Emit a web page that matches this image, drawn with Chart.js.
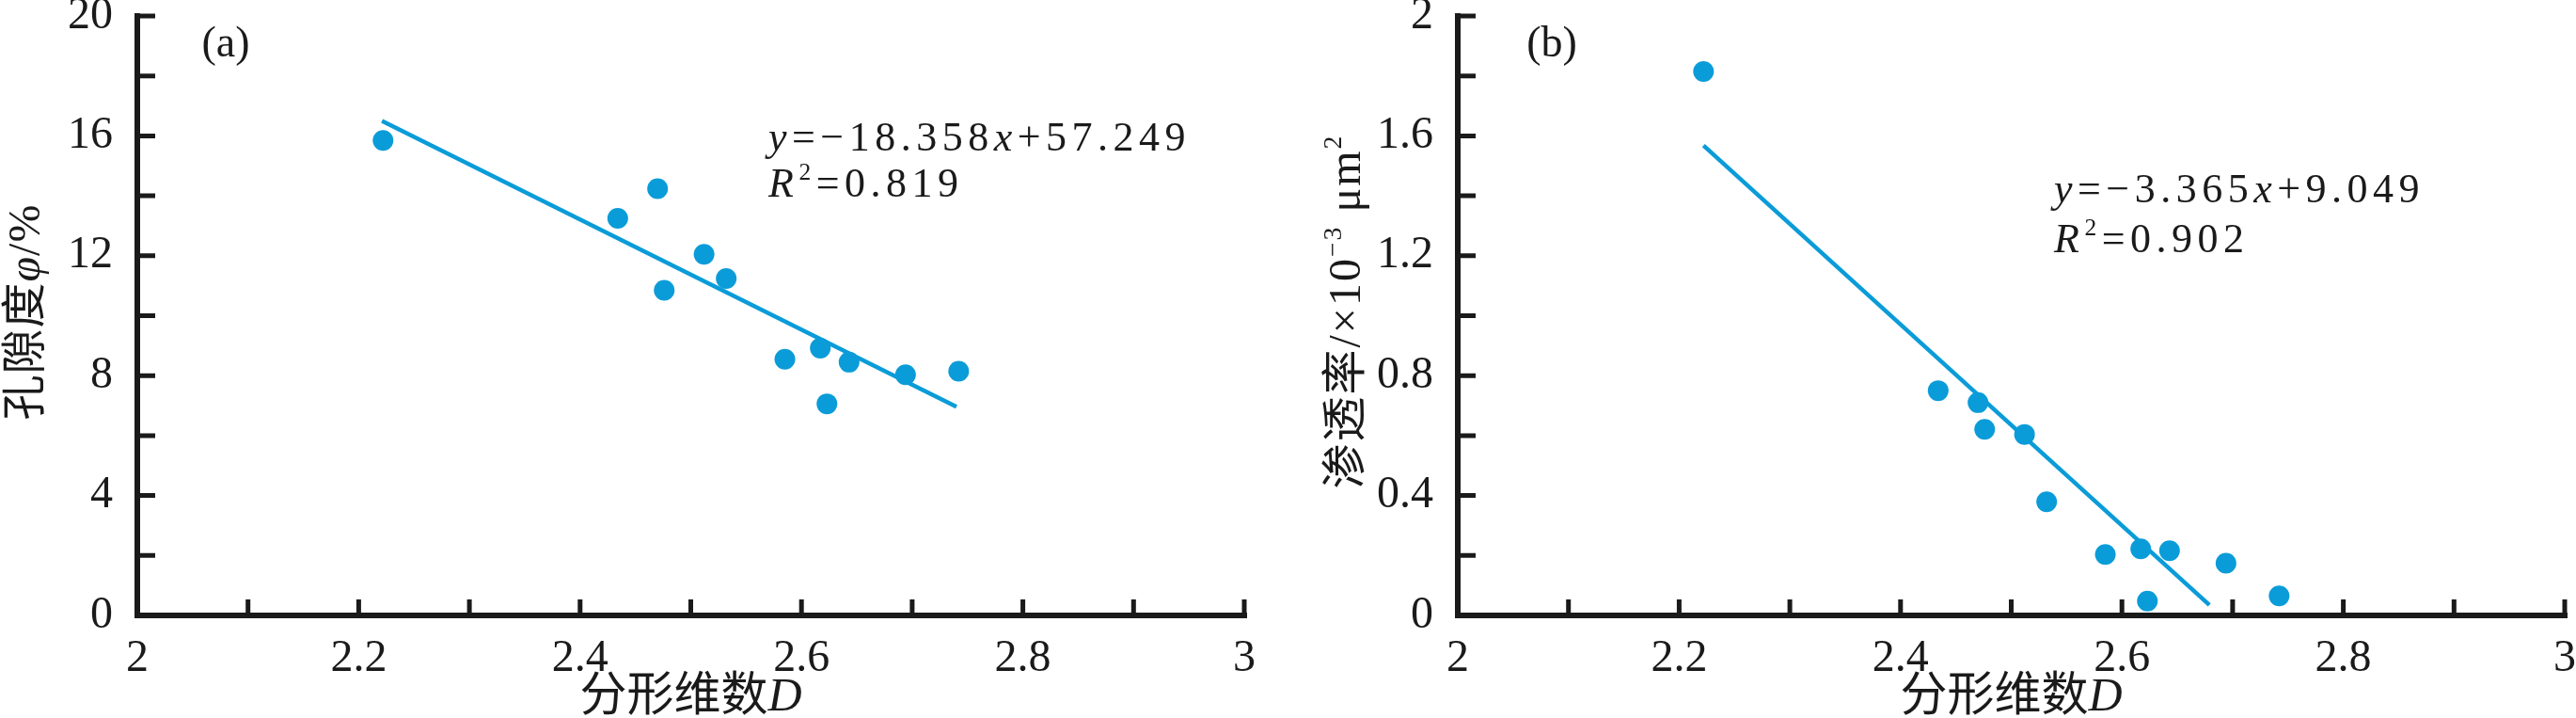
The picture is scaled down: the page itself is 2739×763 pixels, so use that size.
<!DOCTYPE html>
<html>
<head>
<meta charset="utf-8">
<script src="https://cdn.jsdelivr.net/npm/chart.js@4.4.1/dist/chart.umd.min.js"></script>
<style>
    body { margin: 0; background: #fff; width: 2739px; height: 763px; overflow: hidden; position: relative; }
    canvas { position: absolute; top: 0; }
    #chartA { left: 0; }
    #chartB { left: 1400px; }
</style>
</head>
<body>
<canvas id="chartA" width="1400" height="763"></canvas>
<canvas id="chartB" width="1339" height="763"></canvas>
<script>
// fractal dimension D of each sample (shared by both panels)
const dimD = [2.222, 2.434, 2.470, 2.476, 2.512, 2.532, 2.585, 2.617, 2.623, 2.643, 2.694, 2.742];
// porosity, %
const porosity = [15.85, 13.25, 14.24, 10.85, 12.05, 11.24, 8.55, 8.92, 7.06, 8.45, 8.03, 8.15];
// permeability, x10^-3 um^2
const permeability = [1.815, 0.75, 0.71, 0.621, 0.604, 0.379, 0.203, 0.222, 0.048, 0.216, 0.174, 0.065];

// fitted lines, end points
const fitAX = [2.221, 2.740];
const fitAY = [16.50, 6.96];
const fitBX = [2.222, 2.679];
const fitBY = [1.568, 0.035];

// axis ranges
const xRange = [2, 3];
const yRangeA = [0, 20];
const yRangeB = [0, 2];

const INK = '#1a1a1a';
const BLUE = '#0a9cd8';
const SERIF = '"Liberation Serif", "Noto Sans CJK SC", serif';

function toPts(xs, ys) {
    return xs.map((x, i) => ({ x: x, y: ys[i] }));
}

// mixed text helpers (italic letters, superscripts)
function segFont(s, size) {
    const sz = s.sup ? size * 0.58 : size;
    return (s.it ? 'italic ' : '') + sz + 'px ' + SERIF;
}
function richWidth(ctx, segs, size, gap) {
    let w = 0;
    segs.forEach(s => {
        ctx.font = segFont(s, size);
        for (const ch of s.t) w += ctx.measureText(ch).width + gap;
    });
    return w - gap;
}
function drawRich(ctx, segs, x, y, size, gap) {
    segs.forEach(s => {
        ctx.font = segFont(s, size);
        for (const ch of s.t) {
            ctx.fillText(ch, x, s.sup ? y - size * 0.42 : y);
            x += ctx.measureText(ch).width + gap;
        }
    });
}

// axes with inward ticks, titles and annotations
const decorPlugin = {
    id: 'decor',
    afterDraw(chart, args, o) {
        const ctx = chart.ctx;
        const xs = chart.scales.x, ys = chart.scales.y;
        const a = chart.chartArea;
        ctx.save();
        ctx.strokeStyle = INK;
        ctx.fillStyle = INK;

        // ticks point inward
        ctx.lineWidth = 5;
        ctx.beginPath();
        xs.ticks.forEach(t => {
            const px = xs.getPixelForValue(t.value);
            ctx.moveTo(px, a.bottom);
            ctx.lineTo(px, a.bottom - 17);
        });
        ys.ticks.forEach(t => {
            const py = ys.getPixelForValue(t.value);
            ctx.moveTo(a.left, py);
            ctx.lineTo(a.left + 19, py);
        });
        ctx.stroke();

        // axis lines
        ctx.lineWidth = 6;
        ctx.beginPath();
        ctx.moveTo(a.left, a.top - 3);
        ctx.lineTo(a.left, a.bottom + 3);
        ctx.moveTo(a.left - 3, a.bottom);
        ctx.lineTo(a.right + 3, a.bottom);
        ctx.stroke();

        ctx.textAlign = 'left';
        ctx.textBaseline = 'alphabetic';

        // x title
        const xw = richWidth(ctx, o.xTitle, 50, 0);
        drawRich(ctx, o.xTitle, (a.left + a.right) / 2 - xw / 2, 755, 50, 0);

        // y title, rotated
        const yw = richWidth(ctx, o.yTitle, 48, o.yGap);
        ctx.save();
        ctx.translate(a.left - 121, 332);
        ctx.rotate(-Math.PI / 2);
        drawRich(ctx, o.yTitle, -yw / 2, 48 * 0.36, 48, o.yGap);
        ctx.restore();

        // panel tag
        ctx.font = '46px ' + SERIF;
        ctx.textAlign = 'center';
        ctx.textBaseline = 'middle';
        ctx.fillText(o.tag, a.left + o.tagDx, 48);

        // fit equation
        ctx.textAlign = 'left';
        ctx.textBaseline = 'alphabetic';
        drawRich(ctx, o.eq, a.left + o.eqDx, o.eqY[0], 44, 5.5);
        drawRich(ctx, o.r2, a.left + o.eqDx, o.eqY[1], 44, 5.5);
        ctx.restore();
    }
};

function makeChart(id, yVals, fitX, fitY, yRange, yStep, yLabelEvery, padRight, yWidth, deco) {
    const canvas = document.getElementById(id);
    return new Chart(canvas.getContext('2d'), {
        type: 'scatter',
        data: {
            datasets: [
                {
                    data: toPts(dimD, yVals),
                    backgroundColor: BLUE,
                    borderWidth: 0,
                    pointRadius: 11,
                    order: 0
                },
                {
                    type: 'line',
                    data: toPts(fitX, fitY),
                    borderColor: BLUE,
                    borderWidth: 4.5,
                    pointRadius: 0,
                    fill: false,
                    order: 1
                }
            ]
        },
        options: {
            responsive: false,
            animation: false,
            layout: { padding: { left: 0, right: padRight, top: 17, bottom: 0 } },
            plugins: {
                legend: { display: false },
                tooltip: { enabled: false },
                decor: deco
            },
            scales: {
                x: {
                    type: 'linear',
                    min: xRange[0],
                    max: xRange[1],
                    grid: { display: false },
                    border: { display: false },
                    ticks: {
                        stepSize: 0.1,
                        autoSkip: false,
                        maxRotation: 0,
                        padding: 10,
                        color: INK,
                        font: { family: SERIF, size: 48 },
                        callback: v => (Math.round(v * 10) % 2 === 0 ? String(Math.round(v * 10) / 10) : '')
                    },
                    afterFit: s => { s.height = 109; s.paddingLeft = 0; s.paddingRight = 0; }
                },
                y: {
                    type: 'linear',
                    min: yRange[0],
                    max: yRange[1],
                    grid: { display: false },
                    border: { display: false },
                    ticks: {
                        stepSize: yStep,
                        autoSkip: false,
                        padding: 18,
                        color: INK,
                        font: { family: SERIF, size: 48 },
                        callback: v => {
                            const k = Math.round(v / yStep);
                            return k % yLabelEvery === 0 ? String(Math.round(v * 10) / 10) : '';
                        }
                    },
                    afterFit: s => { s.width = yWidth; s.paddingTop = 0; s.paddingBottom = 0; }
                }
            }
        },
        plugins: [decorPlugin]
    });
}

function drawAll() {
    const xTitle = [{ t: '分形维数' }, { t: 'D', it: true }];

    makeChart('chartA', porosity, fitAX, fitAY, yRangeA, 2, 2, 77, 146, {
        xTitle: xTitle,
        yTitle: [{ t: '孔隙度' }, { t: 'φ', it: true }, { t: '/%' }],
        yGap: 1,
        tag: '(a)',
        tagDx: 94,
        eq: [{ t: 'y', it: true }, { t: '=−18.358' }, { t: 'x', it: true }, { t: '+57.249' }],
        r2: [{ t: 'R', it: true }, { t: '2', sup: true }, { t: '=0.819' }],
        eqDx: 671,
        eqY: [160, 209]
    });

    makeChart('chartB', permeability, fitBX, fitBY, yRangeB, 0.2, 2, 12, 150, {
        xTitle: xTitle,
        yTitle: [{ t: '渗透率/×10' }, { t: '−3', sup: true }, { t: ' μm' }, { t: '2', sup: true }],
        yGap: 2,
        tag: '(b)',
        tagDx: 100,
        eq: [{ t: 'y', it: true }, { t: '=−3.365' }, { t: 'x', it: true }, { t: '+9.049' }],
        r2: [{ t: 'R', it: true }, { t: '2', sup: true }, { t: '=0.902' }],
        eqDx: 634,
        eqY: [215, 268]
    });
}

// make sure the serif face is ready before the canvas text is drawn
document.addEventListener('DOMContentLoaded', function() {
    Promise.all([
        document.fonts.load('48px "Liberation Serif"'),
        document.fonts.load('italic 48px "Liberation Serif"'),
        document.fonts.load('48px "Noto Sans CJK SC"', '分形维数')
    ]).then(drawAll, drawAll);
});
</script>
</body>
</html>
